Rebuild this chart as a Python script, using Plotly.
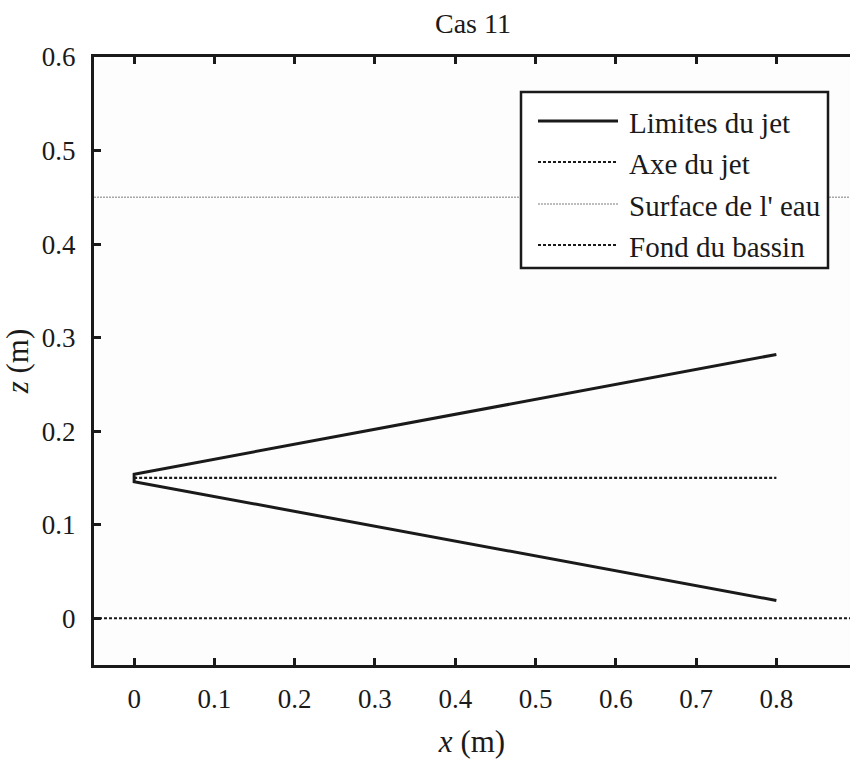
import plotly.graph_objects as go

# Data
jet_x = [0.8, 0.0, 0.0, 0.8]
jet_z = [0.282, 0.154, 0.146, 0.019]
axis_x = [0.0, 0.8]
axis_z = [0.15, 0.15]
surface_x = [-0.05, 0.9]
surface_z = [0.45, 0.45]
bottom_x = [-0.05, 0.9]
bottom_z = [0.0, 0.0]
legend_labels = ["Limites du jet", "Axe du jet", "Surface de l' eau", "Fond du bassin"]
x_ticks = [0, 0.1, 0.2, 0.3, 0.4, 0.5, 0.6, 0.7, 0.8]
y_ticks = [0, 0.1, 0.2, 0.3, 0.4, 0.5, 0.6]

FONT = "Liberation Serif"
INK = "#1a1a1a"
styles = [
    dict(color=INK, width=3, dash="solid"),
    dict(color=INK, width=2.2, dash="3px,2px"),
    dict(color="#a8a8a8", width=1.5, dash="2px,1px"),
    dict(color=INK, width=2.2, dash="3px,2px"),
]

fig = go.Figure()
fig.add_trace(go.Scatter(x=surface_x, y=surface_z, mode="lines", line=styles[2], name=legend_labels[2], showlegend=False))
fig.add_trace(go.Scatter(x=bottom_x, y=bottom_z, mode="lines", line=styles[3], name=legend_labels[3], showlegend=False))
fig.add_trace(go.Scatter(x=axis_x, y=axis_z, mode="lines", line=styles[1], name=legend_labels[1], showlegend=False))
fig.add_trace(go.Scatter(x=jet_x, y=jet_z, mode="lines", line=styles[0], name=legend_labels[0], showlegend=False))

# Manual legend box (paper coordinates)
shapes = []
annotations = []
L, R, T, B = 94, 850, 57, 665
W, H = R - L, B - T
def px(xp):
    return (xp - L) / W
def py(yp):
    return (B - yp) / H

shapes.append(dict(type="rect", xref="paper", yref="paper",
                   x0=px(521), x1=px(828), y0=py(268), y1=py(92),
                   line=dict(color=INK, width=2.5), fillcolor="white", layer="above"))
rows = [121, 162, 204, 245]
for lab, st, yy in zip(legend_labels, styles, rows):
    shapes.append(dict(type="line", xref="paper", yref="paper",
                       x0=px(538), x1=px(618), y0=py(yy), y1=py(yy),
                       line=dict(color=st["color"], width=st["width"], dash=st["dash"]), layer="above"))
    annotations.append(dict(text=lab, xref="paper", yref="paper", x=px(627), y=py(yy + 2),
                            xanchor="left", yanchor="middle", showarrow=False,
                            font=dict(family=FONT, size=29, color=INK)))

fig.update_layout(
    width=850, height=763,
    margin=dict(l=L, r=850 - R, t=T, b=763 - B),
    paper_bgcolor="white", plot_bgcolor="#fdfdfd",
    showlegend=False,
    title=dict(text="Cas 11", x=473 / 850, xanchor="center", y=1 - 23 / 763, yanchor="middle",
               font=dict(family=FONT, size=28, color=INK)),
    font=dict(family=FONT, size=26, color=INK),
    shapes=shapes, annotations=annotations,
)
fig.update_xaxes(range=[-0.05, 0.8917], tickvals=x_ticks, ticktext=[f"{v:g}" for v in x_ticks],
                 showgrid=False, zeroline=False, showline=True, linecolor=INK, linewidth=3,
                 mirror="ticks", ticks="inside", ticklen=7, tickwidth=2.5, tickcolor=INK,
                 tickfont=dict(family=FONT, size=27), ticklabelstandoff=8,
                 title=dict(text="<i>x</i> (m)", font=dict(family=FONT, size=31), standoff=17))
fig.update_yaxes(range=[-0.05, 0.6], tickvals=y_ticks, ticktext=[f"{v:g}" for v in y_ticks],
                 showgrid=False, zeroline=False, showline=True, linecolor=INK, linewidth=3,
                 mirror=False, ticks="inside", ticklen=7, tickwidth=2.5, tickcolor=INK,
                 tickfont=dict(family=FONT, size=27), ticklabelstandoff=10,
                 title=dict(text="<i>z</i> (m)", font=dict(family=FONT, size=31), standoff=4))

fig.write_html("out.html", config={"displayModeBar": False},
               post_script="document.body.style.margin='0';document.body.style.overflow='hidden';")
